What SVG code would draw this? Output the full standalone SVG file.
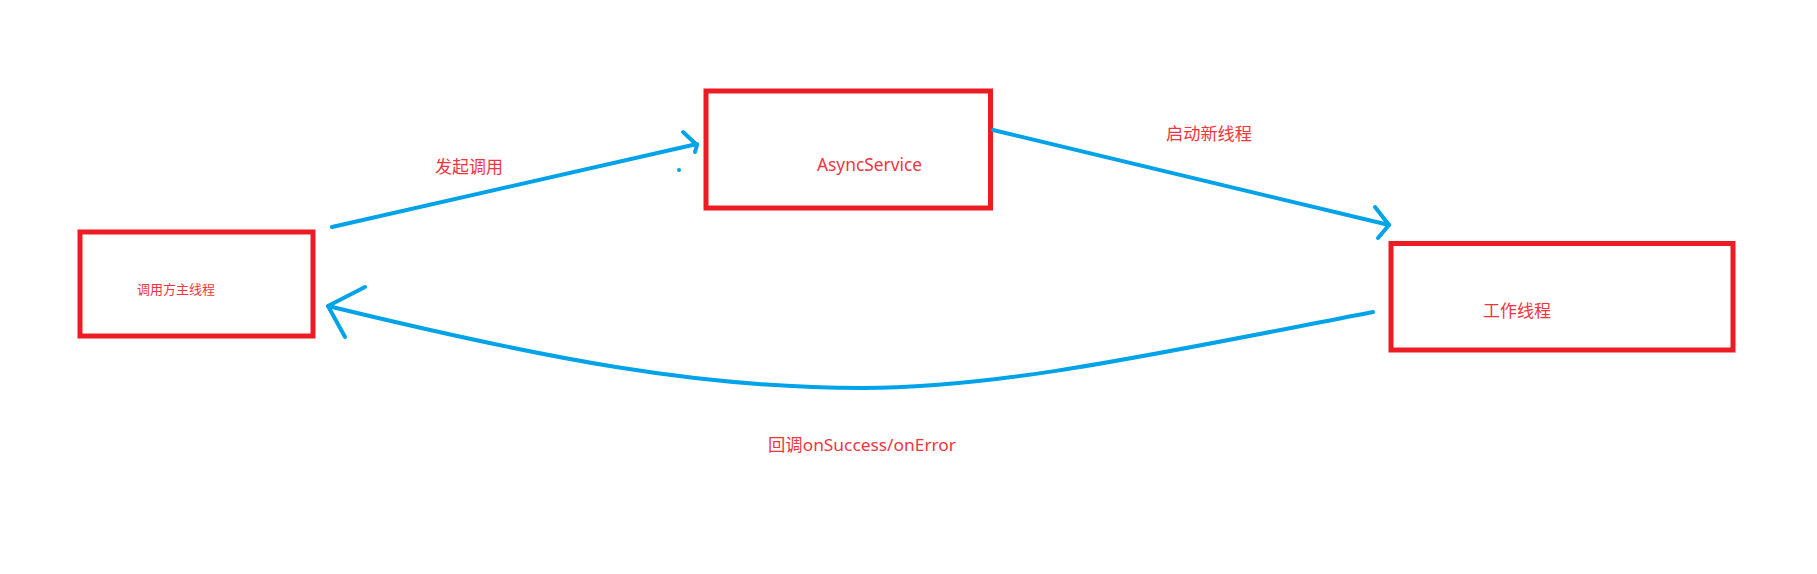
<svg xmlns="http://www.w3.org/2000/svg" width="1817" height="574" viewBox="0 0 1817 574">
<style>
.box{fill:none;stroke:#ed1c24;stroke-width:5}
.lbl{fill:#ef3540;font-family:"Noto Sans","Noto Sans CJK SC",sans-serif}
.conn{fill:none;stroke:#00a2e8;stroke-width:4;stroke-linecap:round;stroke-linejoin:round}
</style>
<rect width="1817" height="574" fill="#ffffff"/>
<g id="node-caller">
<rect class="box" x="80" y="232" width="233" height="104"/>
<text class="lbl" x="137" y="294" font-size="13" textLength="78" lengthAdjust="spacingAndGlyphs">调用方主线程</text>
</g>
<g id="node-async">
<rect class="box" x="706" y="91" width="284.5" height="117"/>
<text class="lbl" x="817" y="171" font-size="18" textLength="105" lengthAdjust="spacingAndGlyphs">AsyncService</text>
</g>
<g id="node-worker">
<rect class="box" x="1391" y="243.5" width="342" height="106.5"/>
<text class="lbl" x="1483" y="317" font-size="17" textLength="68" lengthAdjust="spacingAndGlyphs">工作线程</text>
</g>
<g id="connectors">
<line class="conn" x1="332" y1="227" x2="697" y2="144"/>
<polyline class="conn" points="683,132 697,145 695,152"/>
<circle cx="679" cy="170" r="2" fill="#00a2e8"/>
<line class="conn" x1="993" y1="130" x2="1389" y2="225"/>
<polyline class="conn" points="1375,207 1389,225 1378,238"/>
<path class="conn" d="M1373,312 C1150,355 1000,388 862,388 C700,388 550,360 328,306"/>
<polyline class="conn" points="365,287 328,306 345,337"/>
<text class="lbl" x="435" y="173" font-size="17" textLength="68" lengthAdjust="spacingAndGlyphs">发起调用</text>
<text class="lbl" x="1166" y="140" font-size="17" textLength="86" lengthAdjust="spacingAndGlyphs">启动新线程</text>
<text class="lbl" x="768" y="451" font-size="17" textLength="188" lengthAdjust="spacingAndGlyphs">回调onSuccess/onError</text>
</g>
</svg>
